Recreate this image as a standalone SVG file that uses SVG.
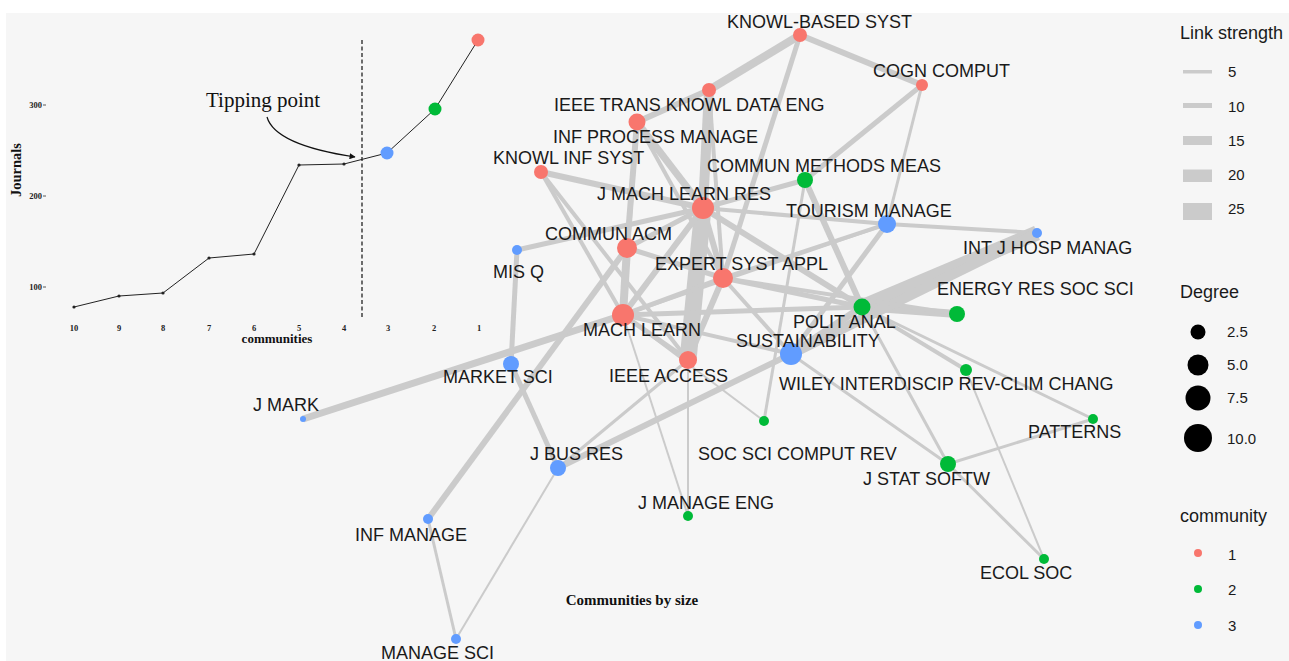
<svg xmlns="http://www.w3.org/2000/svg" width="1289" height="661" viewBox="0 0 1289 661">
<defs>
<style>
.bg{fill:#f6f6f6}
.e line{stroke:#cbcbcb;stroke-linecap:butt}
.lbl{font-family:"Liberation Sans",Arial,sans-serif;font-size:18px;fill:#1a1a1a}
.c1{fill:#f8766d}.c2{fill:#00ba38}.c3{fill:#619cff}
.leg{font-family:"Liberation Sans",Arial,sans-serif;fill:#1a1a1a}
.ser{font-family:"Liberation Serif","Times New Roman",serif;fill:#111}
.tick{font-family:"Liberation Serif","Times New Roman",serif;font-size:8.5px;font-weight:bold;fill:#222}
</style>
<marker id="ah" viewBox="0 0 10 10" refX="9" refY="5" markerWidth="7" markerHeight="6" orient="auto" markerUnits="userSpaceOnUse">
<path d="M0,0 L10,5 L0,10 z" fill="#111"/>
</marker>
</defs>
<rect width="1289" height="661" fill="#ffffff"/>
<rect class="bg" x="6" y="13" width="1283" height="648"/>

<g id="connectors" class="e">
<line x1="800" y1="35" x2="709" y2="90" stroke-width="8"/>
<line x1="800" y1="35" x2="922" y2="85" stroke-width="6"/>
<line x1="800" y1="35" x2="723" y2="278" stroke-width="5"/>
<line x1="709" y1="90" x2="637" y2="122" stroke-width="6"/>
<line x1="709" y1="90" x2="703" y2="208" stroke-width="10"/>
<line x1="709" y1="90" x2="723" y2="278" stroke-width="4"/>
<line x1="637" y1="122" x2="627" y2="248" stroke-width="6"/>
<line x1="637" y1="122" x2="703" y2="208" stroke-width="7"/>
<line x1="637" y1="122" x2="723" y2="278" stroke-width="4"/>
<line x1="637" y1="122" x2="623" y2="315" stroke-width="4"/>
<line x1="541" y1="172" x2="703" y2="208" stroke-width="6"/>
<line x1="541" y1="172" x2="623" y2="315" stroke-width="4"/>
<line x1="541" y1="172" x2="688" y2="360" stroke-width="4"/>
<line x1="703" y1="208" x2="688" y2="360" stroke-width="17"/>
<line x1="703" y1="208" x2="627" y2="248" stroke-width="5"/>
<line x1="703" y1="208" x2="623" y2="315" stroke-width="6"/>
<line x1="703" y1="208" x2="723" y2="278" stroke-width="6"/>
<line x1="627" y1="248" x2="623" y2="315" stroke-width="8"/>
<line x1="627" y1="248" x2="723" y2="278" stroke-width="5"/>
<line x1="623" y1="315" x2="723" y2="278" stroke-width="5"/>
<line x1="623" y1="315" x2="688" y2="360" stroke-width="5"/>
<line x1="723" y1="278" x2="688" y2="360" stroke-width="6"/>
<line x1="922" y1="85" x2="805" y2="180" stroke-width="5"/>
<line x1="922" y1="85" x2="887" y2="224" stroke-width="3"/>
<line x1="805" y1="180" x2="703" y2="208" stroke-width="5"/>
<line x1="805" y1="180" x2="862" y2="307" stroke-width="6"/>
<line x1="887" y1="224" x2="1037" y2="233" stroke-width="4"/>
<line x1="887" y1="224" x2="791" y2="354" stroke-width="5"/>
<line x1="887" y1="224" x2="703" y2="208" stroke-width="4"/>
<line x1="887" y1="224" x2="723" y2="278" stroke-width="4"/>
<line x1="887" y1="224" x2="623" y2="315" stroke-width="3"/>
<line x1="862" y1="307" x2="703" y2="208" stroke-width="6"/>
<line x1="862" y1="307" x2="723" y2="278" stroke-width="5"/>
<line x1="862" y1="307" x2="623" y2="315" stroke-width="5"/>
<line x1="862" y1="307" x2="957" y2="314" stroke-width="8"/>
<line x1="862" y1="307" x2="1037" y2="233" stroke-width="15"/>
<line x1="862" y1="307" x2="966" y2="370" stroke-width="4"/>
<line x1="862" y1="307" x2="1093" y2="419" stroke-width="3"/>
<line x1="862" y1="307" x2="948" y2="464" stroke-width="3"/>
<line x1="862" y1="307" x2="791" y2="354" stroke-width="7"/>
<line x1="791" y1="354" x2="1037" y2="233" stroke-width="10"/>
<line x1="723" y1="278" x2="957" y2="314" stroke-width="4"/>
<line x1="791" y1="354" x2="948" y2="464" stroke-width="3"/>
<line x1="948" y1="464" x2="1093" y2="419" stroke-width="3"/>
<line x1="948" y1="464" x2="1044" y2="559" stroke-width="3"/>
<line x1="966" y1="370" x2="1044" y2="559" stroke-width="2"/>
<line x1="791" y1="354" x2="558" y2="468" stroke-width="6"/>
<line x1="791" y1="354" x2="623" y2="315" stroke-width="4"/>
<line x1="791" y1="354" x2="723" y2="278" stroke-width="4"/>
<line x1="764" y1="421" x2="805" y2="180" stroke-width="3"/>
<line x1="764" y1="421" x2="623" y2="315" stroke-width="2"/>
<line x1="688" y1="516" x2="623" y2="315" stroke-width="2"/>
<line x1="688" y1="516" x2="688" y2="360" stroke-width="2"/>
<line x1="517" y1="250" x2="703" y2="208" stroke-width="5"/>
<line x1="517" y1="250" x2="511" y2="364" stroke-width="5"/>
<line x1="511" y1="364" x2="558" y2="468" stroke-width="5"/>
<line x1="303" y1="419" x2="623" y2="315" stroke-width="7"/>
<line x1="428" y1="519" x2="627" y2="248" stroke-width="6"/>
<line x1="428" y1="519" x2="456" y2="639" stroke-width="3"/>
<line x1="456" y1="639" x2="558" y2="468" stroke-width="2"/>
<line x1="558" y1="468" x2="688" y2="360" stroke-width="3"/>
</g>

<g id="n-knowl-based-syst"><circle class="c1" cx="800" cy="35" r="7"/><text class="lbl" x="727" y="28">KNOWL-BASED SYST</text></g>
<g id="n-cogn-comput"><circle class="c1" cx="922" cy="85" r="6"/><text class="lbl" x="873" y="77">COGN COMPUT</text></g>
<g id="n-ieee-trans"><circle class="c1" cx="709" cy="90" r="7"/><text class="lbl" x="554" y="111">IEEE TRANS KNOWL DATA ENG</text></g>
<g id="n-inf-process"><circle class="c1" cx="637" cy="122" r="8.5"/><text class="lbl" x="553" y="143">INF PROCESS MANAGE</text></g>
<g id="n-knowl-inf-syst"><circle class="c1" cx="541" cy="172" r="7"/><text class="lbl" x="493" y="164">KNOWL INF SYST</text></g>
<g id="n-commun-methods"><circle class="c2" cx="805" cy="180" r="8"/><text class="lbl" x="707" y="172">COMMUN METHODS MEAS</text></g>
<g id="n-j-mach-learn-res"><circle class="c1" cx="703" cy="208" r="11"/><text class="lbl" x="597" y="200">J MACH LEARN RES</text></g>
<g id="n-tourism"><circle class="c3" cx="887" cy="224" r="9"/><text class="lbl" x="786" y="217">TOURISM MANAGE</text></g>
<g id="n-commun-acm"><circle class="c1" cx="627" cy="248" r="10"/><text class="lbl" x="545" y="240">COMMUN ACM</text></g>
<g id="n-mis-q"><circle class="c3" cx="517" cy="250" r="5"/><text class="lbl" x="493" y="278">MIS Q</text></g>
<g id="n-expert"><circle class="c1" cx="723" cy="278" r="10"/><text class="lbl" x="655" y="270">EXPERT SYST APPL</text></g>
<g id="n-int-j-hosp"><circle class="c3" cx="1037" cy="233" r="5"/><text class="lbl" x="963" y="254">INT J HOSP MANAG</text></g>
<g id="n-polit-anal"><circle class="c2" cx="862" cy="307" r="8.5"/><text class="lbl" x="793" y="328">POLIT ANAL</text></g>
<g id="n-energy"><circle class="c2" cx="957" cy="314" r="8"/><text class="lbl" x="937" y="295">ENERGY RES SOC SCI</text></g>
<g id="n-mach-learn"><circle class="c1" cx="623" cy="315" r="11"/><text class="lbl" x="583" y="336">MACH LEARN</text></g>
<g id="n-sustainability"><circle class="c3" cx="791" cy="354" r="11"/><text class="lbl" x="736" y="347">SUSTAINABILITY</text></g>
<g id="n-ieee-access"><circle class="c1" cx="688" cy="360" r="9"/><text class="lbl" x="609" y="382">IEEE ACCESS</text></g>
<g id="n-wiley"><circle class="c2" cx="966" cy="370" r="6"/><text class="lbl" x="779" y="390">WILEY INTERDISCIP REV-CLIM CHANG</text></g>
<g id="n-market-sci"><circle class="c3" cx="511" cy="364" r="8"/><text class="lbl" x="443" y="383">MARKET SCI</text></g>
<g id="n-j-mark"><circle class="c3" cx="303" cy="419" r="3"/><text class="lbl" x="253" y="411">J MARK</text></g>
<g id="n-soc-sci"><circle class="c2" cx="764" cy="421" r="5"/><text class="lbl" x="698" y="460">SOC SCI COMPUT REV</text></g>
<g id="n-patterns"><circle class="c2" cx="1093" cy="419" r="5"/><text class="lbl" x="1028" y="438">PATTERNS</text></g>
<g id="n-j-stat"><circle class="c2" cx="948" cy="464" r="8"/><text class="lbl" x="863" y="485">J STAT SOFTW</text></g>
<g id="n-j-bus-res"><circle class="c3" cx="558" cy="468" r="8"/><text class="lbl" x="530" y="460">J BUS RES</text></g>
<g id="n-j-manage-eng"><circle class="c2" cx="688" cy="516" r="5"/><text class="lbl" x="638" y="509">J MANAGE ENG</text></g>
<g id="n-inf-manage"><circle class="c3" cx="428" cy="519" r="5"/><text class="lbl" x="355" y="541">INF MANAGE</text></g>
<g id="n-ecol-soc"><circle class="c2" cx="1044" cy="559" r="5"/><text class="lbl" x="980" y="579">ECOL SOC</text></g>
<g id="n-manage-sci"><circle class="c3" cx="456" cy="639" r="5"/><text class="lbl" x="381" y="659">MANAGE SCI</text></g>

<g id="inset">
<text class="ser" font-size="14.5" font-weight="bold" transform="translate(21,170) rotate(-90)" text-anchor="middle">Journals</text>
<text class="tick" x="42" y="108" text-anchor="end">300</text>
<text class="tick" x="42" y="199" text-anchor="end">200</text>
<text class="tick" x="42" y="290" text-anchor="end">100</text>
<g stroke="#333" stroke-width="0.8"><line x1="43" y1="105" x2="46" y2="105"/><line x1="43" y1="196" x2="46" y2="196"/><line x1="43" y1="287" x2="46" y2="287"/></g>
<g class="tick" text-anchor="middle">
<text x="74" y="331">10</text><text x="119" y="331">9</text><text x="163" y="331">8</text><text x="209" y="331">7</text><text x="254" y="331">6</text><text x="299" y="331">5</text><text x="344" y="331">4</text><text x="388" y="331">3</text><text x="434" y="331">2</text><text x="479" y="331">1</text>
</g>
<text class="ser" font-size="13" font-weight="bold" x="277" y="343" text-anchor="middle">communities</text>
<line x1="362" y1="40" x2="362" y2="318" stroke="#222" stroke-width="1.3" stroke-dasharray="4,2.5"/>
<polyline points="74,307 119,296 163,293 209,258 254,254 299,165 344,164 387,153 435,109 478,40" fill="none" stroke="#222" stroke-width="1"/>
<g fill="#222"><circle cx="74" cy="307" r="1.6"/><circle cx="119" cy="296" r="1.6"/><circle cx="163" cy="293" r="1.6"/><circle cx="209" cy="258" r="1.6"/><circle cx="254" cy="254" r="1.6"/><circle cx="299" cy="165" r="1.6"/><circle cx="344" cy="164" r="1.6"/></g>
<circle class="c3" cx="387" cy="153" r="6.5"/>
<circle class="c2" cx="435" cy="109" r="6.5"/>
<circle class="c1" cx="478" cy="40" r="6.5"/>
<text class="ser" font-size="21" x="206" y="107">Tipping point</text>
<path d="M267,117 Q275,145 355,157" fill="none" stroke="#111" stroke-width="1.2" marker-end="url(#ah)"/>
</g>

<text class="ser" font-size="15" font-weight="bold" x="632" y="605" text-anchor="middle">Communities by size</text>

<g id="legend" class="leg">
<text x="1180" y="39" font-size="18">Link strength</text>
<g fill="#cbcbcb">
<rect x="1183" y="70" width="29" height="3.5"/>
<rect x="1183" y="103" width="29" height="5"/>
<rect x="1183" y="136" width="29" height="9"/>
<rect x="1183" y="169.5" width="29" height="12.5"/>
<rect x="1183" y="203" width="29" height="17"/>
</g>
<g font-size="15">
<text x="1228" y="77">5</text><text x="1228" y="112">10</text><text x="1228" y="146">15</text><text x="1228" y="180">20</text><text x="1228" y="214">25</text>
</g>
<text x="1180" y="298" font-size="18">Degree</text>
<g fill="#000">
<circle cx="1198" cy="332" r="7.5"/><circle cx="1198" cy="365" r="10.5"/><circle cx="1198" cy="398" r="12.5"/><circle cx="1198" cy="438" r="14"/>
</g>
<g font-size="15">
<text x="1227" y="337">2.5</text><text x="1227" y="370">5.0</text><text x="1227" y="403">7.5</text><text x="1227" y="444">10.0</text>
</g>
<text x="1180" y="522" font-size="18">community</text>
<circle class="c1" cx="1198" cy="553" r="4"/><circle class="c2" cx="1198" cy="589" r="4"/><circle class="c3" cx="1198" cy="625" r="4"/>
<g font-size="15">
<text x="1228" y="560">1</text><text x="1228" y="595">2</text><text x="1228" y="631">3</text>
</g>
</g>
</svg>
